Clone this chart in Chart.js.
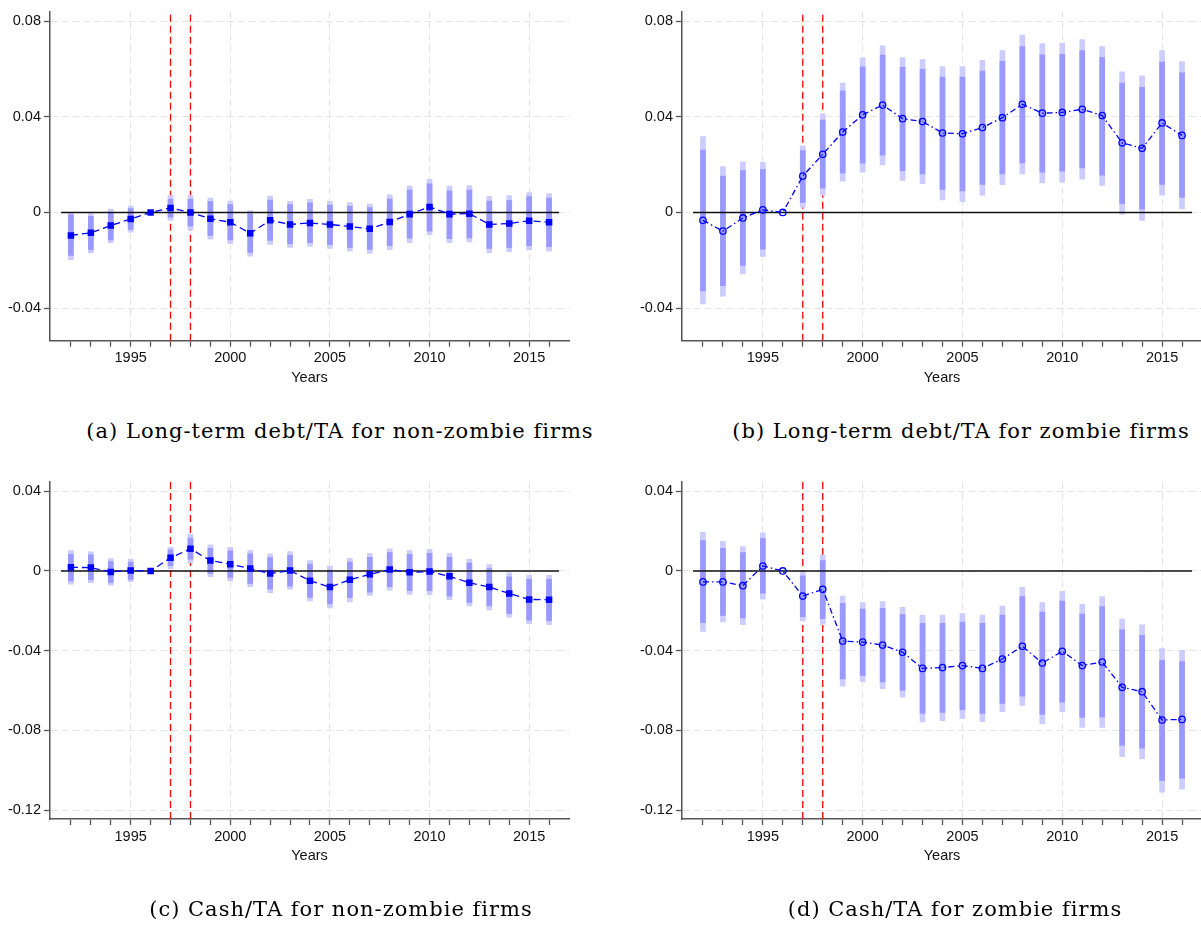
<!DOCTYPE html>
<html><head><meta charset="utf-8">
<script src="https://cdn.jsdelivr.net/npm/chart.js@4"></script>
<style>
html,body{margin:0;padding:0;background:#fff;overflow:hidden;width:1201px;height:928px;}
canvas{position:absolute;}
.cap{position:absolute;font-family:"DejaVu Serif";font-size:21px;line-height:21px;letter-spacing:1px;white-space:nowrap;text-align:center;color:#000;}
</style></head><body>
<canvas id="cA" width="600" height="400" style="left:0;top:0"></canvas>
<canvas id="cB" width="620" height="400" style="left:600px;top:0"></canvas>
<canvas id="cC" width="600" height="450" style="left:0;top:470px"></canvas>
<canvas id="cD" width="620" height="450" style="left:600px;top:470px"></canvas>
<div class="cap" style="left:40px;width:600px;top:421px">(a) Long-term debt/TA for non-zombie firms</div>
<div class="cap" style="left:661px;width:600px;top:421px">(b) Long-term debt/TA for zombie firms</div>
<div class="cap" style="left:41px;width:600px;top:899px">(c) Cash/TA for non-zombie firms</div>
<div class="cap" style="left:655px;width:600px;top:899px">(d) Cash/TA for zombie firms</div>
<script>
// ---- data ----
const years = [1992,1993,1994,1995,1996,1997,1998,1999,2000,2001,2002,2003,2004,2005,2006,2007,2008,2009,2010,2011,2012,2013,2014,2015,2016];
const xLabelYears = [1995,2000,2005,2010,2015];
const eventYears = [1997,1998];
const xAxisTitle = 'Years';

const yTicksDebt = [-0.04,0,0.04,0.08];
const yTickLabelsDebt = ['-0.04','0','0.04','0.08'];
const yTicksCash = [-0.12,-0.08,-0.04,0,0.04];
const yTickLabelsCash = ['-0.12','-0.08','-0.04','0','0.04'];

// (a) Long-term debt/TA, non-zombie
const ptA   = [-0.0096,-0.0085,-0.0055,-0.0027,0,0.0019,0.0000,-0.0026,-0.0041,-0.0087,-0.0033,-0.0050,-0.0044,-0.0050,-0.0059,-0.0068,-0.0040,-0.0007,0.0023,-0.0007,-0.0005,-0.0050,-0.0046,-0.0035,-0.0041];
const hi90A = [-0.0010,-0.0016,0.0000,0.0016,null,0.0055,0.0055,0.0045,0.0033,-0.0007,0.0052,0.0033,0.0040,0.0031,0.0026,0.0020,0.0056,0.0093,0.0120,0.0090,0.0093,0.0048,0.0050,0.0066,0.0060];
const lo90A = [-0.0180,-0.0156,-0.0115,-0.0071,null,-0.0020,-0.0057,-0.0096,-0.0115,-0.0167,-0.0117,-0.0130,-0.0126,-0.0135,-0.0146,-0.0154,-0.0139,-0.0108,-0.0078,-0.0110,-0.0106,-0.0150,-0.0146,-0.0139,-0.0143];
const hi95A = [0.0000,-0.0005,0.0014,0.0027,null,0.0070,0.0071,0.0060,0.0048,0.0008,0.0068,0.0046,0.0055,0.0046,0.0041,0.0035,0.0074,0.0110,0.0138,0.0110,0.0112,0.0067,0.0070,0.0083,0.0079];
const lo95A = [-0.0197,-0.0169,-0.0126,-0.0082,null,-0.0033,-0.0074,-0.0112,-0.0130,-0.0183,-0.0134,-0.0146,-0.0141,-0.0150,-0.0161,-0.0171,-0.0156,-0.0126,-0.0093,-0.0126,-0.0123,-0.0168,-0.0164,-0.0157,-0.0162];

// (b) Long-term debt/TA, zombie
const ptB   = [-0.0033,-0.0078,-0.0023,0.0011,0,0.0152,0.0243,0.0336,0.0408,0.0449,0.0392,0.0380,0.0332,0.0329,0.0355,0.0396,0.0452,0.0415,0.0418,0.0431,0.0405,0.0291,0.0268,0.0374,0.0322];
const hi90B = [0.0261,0.0152,0.0175,0.0179,null,0.0259,0.0386,0.0508,0.0609,0.0658,0.0607,0.0598,0.0566,0.0566,0.0591,0.0632,0.0693,0.0659,0.0661,0.0677,0.0648,0.0541,0.0523,0.0628,0.0584];
const lo90B = [-0.0328,-0.0306,-0.0221,-0.0153,null,0.0042,0.0101,0.0164,0.0206,0.0239,0.0175,0.0161,0.0096,0.0090,0.0117,0.0161,0.0207,0.0168,0.0172,0.0186,0.0156,0.0038,0.0014,0.0117,0.0063];
const hi95B = [0.0317,0.0192,0.0212,0.0209,null,0.0278,0.0412,0.0541,0.0646,0.0696,0.0647,0.0639,0.0610,0.0610,0.0636,0.0677,0.0741,0.0706,0.0708,0.0723,0.0693,0.0588,0.0571,0.0677,0.0631];
const lo95B = [-0.0382,-0.0350,-0.0257,-0.0184,null,0.0022,0.0072,0.0131,0.0168,0.0199,0.0134,0.0120,0.0052,0.0045,0.0072,0.0116,0.0161,0.0123,0.0127,0.0139,0.0113,-0.0007,-0.0033,0.0072,0.0015];

// (c) Cash/TA, non-zombie
const ptC   = [0.0018,0.0017,-0.0005,0.0002,0,0.0066,0.0111,0.0052,0.0034,0.0012,-0.0013,0.0002,-0.0049,-0.0081,-0.0044,-0.0017,0.0007,-0.0007,-0.0003,-0.0027,-0.0059,-0.0081,-0.0113,-0.0143,-0.0144];
const hi90C = [0.0084,0.0081,0.0047,0.0045,null,0.0106,0.0165,0.0114,0.0101,0.0086,0.0067,0.0079,0.0035,0.0005,0.0045,0.0069,0.0092,0.0084,0.0089,0.0069,0.0039,0.0012,-0.0029,-0.0042,-0.0042];
const lo90C = [-0.0050,-0.0045,-0.0057,-0.0042,null,0.0027,0.0059,-0.0012,-0.0032,-0.0062,-0.0092,-0.0076,-0.0133,-0.0166,-0.0134,-0.0106,-0.0079,-0.0099,-0.0099,-0.0126,-0.0158,-0.0176,-0.0213,-0.0247,-0.0250];
const hi95C = [0.0102,0.0096,0.0062,0.0059,null,0.0119,0.0185,0.0131,0.0119,0.0104,0.0086,0.0097,0.0052,0.0024,0.0064,0.0089,0.0111,0.0102,0.0109,0.0089,0.0059,0.0032,-0.0010,-0.0022,-0.0022];
const lo95C = [-0.0066,-0.0059,-0.0071,-0.0054,null,0.0012,0.0042,-0.0029,-0.0050,-0.0079,-0.0109,-0.0092,-0.0150,-0.0185,-0.0155,-0.0123,-0.0097,-0.0118,-0.0119,-0.0144,-0.0176,-0.0195,-0.0232,-0.0265,-0.0270];

// (d) Cash/TA, zombie
const ptD   = [-0.0055,-0.0055,-0.0074,0.0025,0,-0.0126,-0.0092,-0.0352,-0.0357,-0.0372,-0.0408,-0.0489,-0.0485,-0.0475,-0.0489,-0.0442,-0.0378,-0.0462,-0.0403,-0.0475,-0.0457,-0.0584,-0.0606,-0.0748,-0.0745];
const hi90D = [0.0152,0.0114,0.0092,0.0162,null,-0.0025,0.0052,-0.0162,-0.0191,-0.0187,-0.0219,-0.0263,-0.0263,-0.0256,-0.0263,-0.0221,-0.0129,-0.0206,-0.0151,-0.0216,-0.0179,-0.0296,-0.0323,-0.0449,-0.0455];
const lo90D = [-0.0259,-0.0223,-0.0236,-0.0112,null,-0.0229,-0.0239,-0.0542,-0.0524,-0.0557,-0.0599,-0.0715,-0.0710,-0.0696,-0.0715,-0.0665,-0.0628,-0.0720,-0.0658,-0.0735,-0.0733,-0.0876,-0.0889,-0.1053,-0.1040];
const hi95D = [0.0194,0.0149,0.0122,0.0191,null,-0.0003,0.0080,-0.0126,-0.0159,-0.0154,-0.0182,-0.0221,-0.0221,-0.0214,-0.0221,-0.0176,-0.0082,-0.0159,-0.0102,-0.0167,-0.0129,-0.0241,-0.0270,-0.0390,-0.0398];
const lo95D = [-0.0303,-0.0256,-0.0270,-0.0141,null,-0.0251,-0.0268,-0.0578,-0.0556,-0.0591,-0.0634,-0.0758,-0.0752,-0.0740,-0.0757,-0.0706,-0.0675,-0.0768,-0.0706,-0.0785,-0.0785,-0.0932,-0.0942,-0.1110,-0.1095];

// ---- styling ----
Chart.defaults.font.family = '"Liberation Sans", Arial, sans-serif';
Chart.defaults.font.size = 14.5;
Chart.defaults.color = '#111';

const BLUE = '#0000ff';
const CI90 = '#9999ff';
const CI95 = '#ccccff';
const GRID = '#e4e4e4';
const AXIS = '#555555';

function bars(lo, hi, color, order) {
  return {
    type: 'bar', order: order, grouped: false, barThickness: 5,
    backgroundColor: color, borderWidth: 0,
    data: years.map((y, i) => hi[i] == null ? null : {x: y, y: [lo[i], hi[i]]}).filter(Boolean)
  };
}

function makeChart(id, cfg) {
  const ds = [];
  eventYears.forEach(ey => ds.push({
    type: 'line', order: 10, borderColor: '#ff0000', borderWidth: 1.3, borderDash: [7, 4],
    pointRadius: 0, data: [{x: ey, y: cfg.yMin}, {x: ey, y: cfg.yMax}]
  }));
  ds.push(bars(cfg.lo95, cfg.hi95, CI95, 8));
  ds.push(bars(cfg.lo90, cfg.hi90, CI90, 7));
  ds.push({
    type: 'line', order: 5, borderColor: '#111', borderWidth: 1.5, pointRadius: 0,
    data: [{x: years[0] - 0.5, y: 0}, {x: years[years.length - 1] + 0.5, y: 0}]
  });
  ds.push({
    type: 'line', order: 1, borderColor: BLUE, borderWidth: 1.3, borderDash: cfg.dash,
    pointStyle: cfg.marker, pointRadius: cfg.marker === 'rect' ? 4.6 : 3.2,
    pointBorderWidth: cfg.marker === 'rect' ? 0 : 1.3,
    pointBorderColor: BLUE,
    pointBackgroundColor: cfg.marker === 'rect' ? BLUE : 'rgba(0,0,0,0)',
    data: years.map((y, i) => ({x: y, y: cfg.pt[i]}))
  });

  new Chart(document.getElementById(id), {
    type: 'bar',
    data: {datasets: ds},
    options: {
      responsive: false, animation: false,
      layout: {padding: cfg.pad},
      plugins: {legend: {display: false}, tooltip: {enabled: false}},
      scales: {
        x: {
          type: 'linear', min: 1990.95, max: 2017, offset: false,
          afterBuildTicks: s => { s.ticks = years.map(v => ({value: v})); },
          afterFit: s => { s.height = cfg.xH; },
          ticks: {autoSkip: false, maxRotation: 0, padding: 3,
                  callback: v => xLabelYears.includes(v) ? String(v) : ''},
          grid: {
            offset: false, lineWidth: 1, tickLength: 6, tickWidth: 1.3, tickColor: AXIS,
            tickBorderDash: [],
            color: c => (c.tick && xLabelYears.includes(c.tick.value)) ? GRID : 'rgba(0,0,0,0)'
          },
          border: {display: true, color: AXIS, width: 1.5, dash: [7, 4]},
          title: {display: true, text: xAxisTitle, padding: {top: 0, bottom: 0}, font: {size: 14.5}}
        },
        y: {
          type: 'linear', min: cfg.yMin, max: cfg.yMax,
          afterBuildTicks: s => { s.ticks = cfg.yTicks.map(v => ({value: v})); },
          afterFit: s => { s.width = cfg.yW; },
          ticks: {padding: 3, callback: v => cfg.yLabels[cfg.yTicks.indexOf(v)]},
          grid: {lineWidth: 1, tickLength: 6, tickWidth: 1.3, tickColor: AXIS, tickBorderDash: [], color: GRID},
          border: {display: true, color: AXIS, width: 1.5, dash: [7, 4]}
        }
      }
    }
  });
}

makeChart('cA', {pt: ptA, lo90: lo90A, hi90: hi90A, lo95: lo95A, hi95: hi95A,
  yMin: -0.0536, yMax: 0.0839, yTicks: yTicksDebt, yLabels: yTickLabelsDebt,
  marker: 'rect', dash: [7, 4], yW: 50, xH: 45.5, pad: {top: 5, right: 31, bottom: 13.8, left: 0}});
makeChart('cB', {pt: ptB, lo90: lo90B, hi90: hi90B, lo95: lo95B, hi95: hi95B,
  yMin: -0.0536, yMax: 0.0839, yTicks: yTicksDebt, yLabels: yTickLabelsDebt,
  marker: 'circle', dash: [6, 3, 1.5, 3], yW: 82, xH: 45.5, pad: {top: 5, right: 18, bottom: 13.8, left: 0}});
makeChart('cC', {pt: ptC, lo90: lo90C, hi90: hi90C, lo95: lo95C, hi95: hi95C,
  yMin: -0.1245, yMax: 0.0448, yTicks: yTicksCash, yLabels: yTickLabelsCash,
  marker: 'rect', dash: [7, 4], yW: 50, xH: 45.7, pad: {top: 11.7, right: 31, bottom: 55.3, left: 0}});
makeChart('cD', {pt: ptD, lo90: lo90D, hi90: hi90D, lo95: lo95D, hi95: hi95D,
  yMin: -0.1245, yMax: 0.0448, yTicks: yTicksCash, yLabels: yTickLabelsCash,
  marker: 'circle', dash: [6, 3, 1.5, 3], yW: 82, xH: 45.7, pad: {top: 11.7, right: 18, bottom: 55.3, left: 0}});
</script>
</body></html>
